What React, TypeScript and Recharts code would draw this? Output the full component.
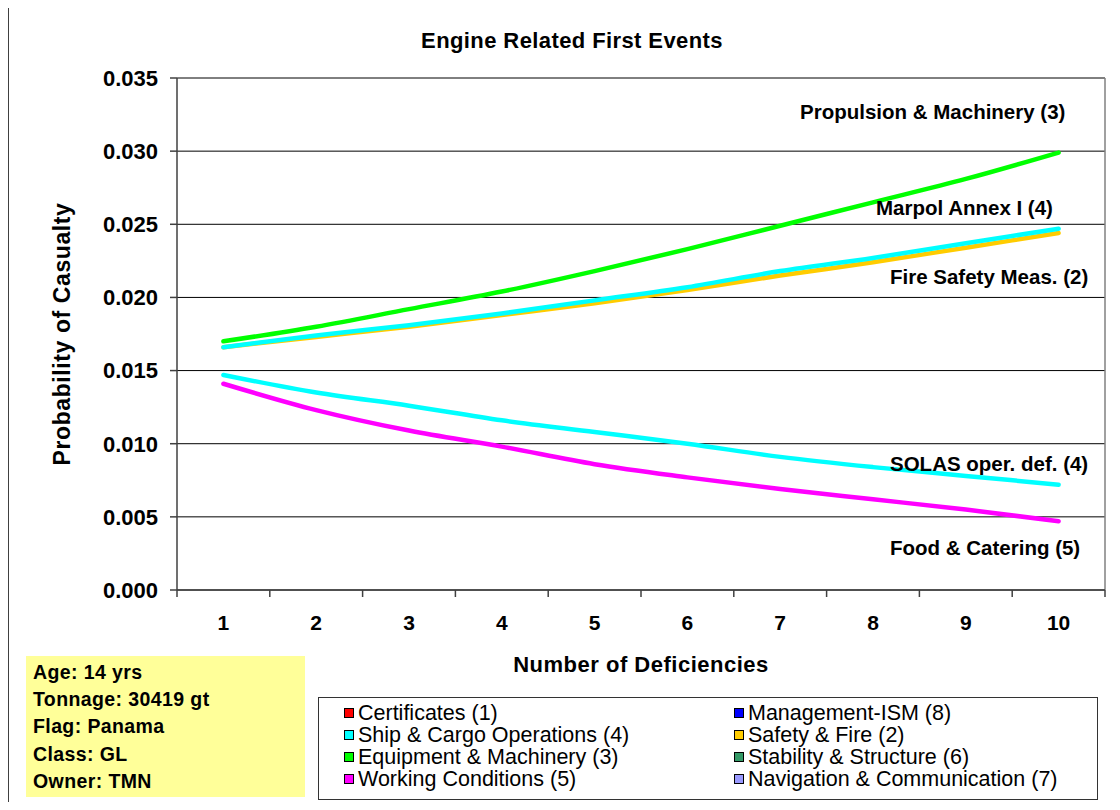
import { LineChart, Line, XAxis, YAxis, CartesianGrid, ReferenceLine, Legend } from "recharts";

const FONT = "'Liberation Sans', Arial, Helvetica, sans-serif";

// number of deficiencies (x categories)
const deficiencies = [1, 2, 3, 4, 5, 6, 7, 8, 9, 10];

// probability of casualty per series
const equipmentMachinery = [0.017, 0.018, 0.0192, 0.0204, 0.0218, 0.0233, 0.0249, 0.0265, 0.0281, 0.0299];
const shipCargoUp = [0.0166, 0.0174, 0.0181, 0.0189, 0.0198, 0.0207, 0.0218, 0.0227, 0.0237, 0.0247];
const safetyFire = [0.0166, 0.0173, 0.018, 0.0188, 0.0196, 0.0205, 0.0215, 0.0224, 0.0234, 0.0244];
const shipCargoDown = [0.0147, 0.0135, 0.0126, 0.0116, 0.0108, 0.01, 0.0091, 0.0084, 0.0078, 0.0072];
const workingConditions = [0.0141, 0.0123, 0.0109, 0.0098, 0.0086, 0.0077, 0.0069, 0.0062, 0.0055, 0.0047];

const yTicks = [0, 0.005, 0.01, 0.015, 0.02, 0.025, 0.03, 0.035];
// tick marks sit between the categories
const boundaryTicks = [0.5, 1.5, 2.5, 3.5, 4.5, 5.5, 6.5, 7.5, 8.5, 9.5, 10.5];

const legendNames = [
	"Certificates (1)",
	"Management-ISM (8)",
	"Ship & Cargo Operations (4)",
	"Safety & Fire (2)",
	"Equipment & Machinery (3)",
	"Stability & Structure (6)",
	"Working Conditions (5)",
	"Navigation & Communication (7)",
];
const legendColors = ["#FF0000", "#0000FF", "#00FFFF", "#FFCC00", "#00FF00", "#339966", "#FF00FF", "#9999FF"];

const shipInfo = ["Age: 14 yrs", "Tonnage: 30419 gt", "Flag: Panama", "Class: GL", "Owner: TMN"];

const data = deficiencies.map((n, i) => ({
	n,
	equipment: equipmentMachinery[i],
	shipUp: shipCargoUp[i],
	safety: safetyFire[i],
	shipDown: shipCargoDown[i],
	working: workingConditions[i],
}));

const YTitle = (props: any) => {
	const { x, y, height } = props.viewBox;
	const cx = x + 62;
	const cy = y + height / 2;
	return (
		<text
			x={cx}
			y={cy}
			transform={`rotate(-90 ${cx} ${cy})`}
			textAnchor="middle"
			dominantBaseline="central"
			fontFamily={FONT}
			fontWeight="bold"
			fontSize={23}
			letterSpacing={0.6}
			fill="#000"
		>
			Probability of Casualty
		</text>
	);
};

const LegendBox = () => (
	<div
		style={{
			boxSizing: "border-box",
			width: 780,
			height: 103,
			border: "1.5px solid #333",
			background: "#fff",
			padding: "4px 0 0 25px",
			display: "grid",
			gridTemplateColumns: "390px 1fr",
			gridAutoRows: "22px",
			alignContent: "start",
			fontFamily: FONT,
			fontSize: 21.5,
			lineHeight: "22px",
			color: "#000",
		}}
	>
		{legendNames.map((name, i) => (
			<div key={name} style={{ display: "flex", alignItems: "center", whiteSpace: "nowrap" }}>
				<span
					style={{
						display: "inline-block",
						width: 8,
						height: 8,
						border: "1px solid #000",
						background: legendColors[i],
						marginRight: 4,
					}}
				/>
				{name}
			</div>
		))}
	</div>
);

const tickStyle = { fill: "#000", fontSize: 22, fontWeight: "bold", fontFamily: FONT };

export default function App() {
	return (
		<div style={{ position: "relative", margin: -8, width: 1120, height: 810, overflow: "hidden", background: "#fff" }}>
			<div
				style={{
					position: "absolute",
					left: 7,
					top: 6,
					width: 1130,
					height: 820,
					borderLeft: "2px solid #404040",
					borderTop: "2px solid #404040",
				}}
			/>
			<div style={{ position: "absolute", left: 0, top: 0 }}>
				<LineChart width={1120} height={810} data={data} margin={{ top: 78, right: 15, bottom: 179, left: 0 }}>
					<CartesianGrid vertical={false} stroke="#000" strokeWidth={1} />
					<XAxis
						xAxisId="labels"
						dataKey="n"
						type="number"
						domain={[0.5, 10.5]}
						ticks={deficiencies}
						interval={0}
						tickLine={false}
						tickSize={0}
						tickMargin={24}
						height={40}
						axisLine={false}
						tick={{ ...tickStyle, fontSize: 21 }}
						label={{
							value: "Number of Deficiencies",
							position: "bottom",
							offset: 25,
							fill: "#000",
							fontSize: 22,
							fontWeight: "bold",
							fontFamily: FONT,
							letterSpacing: 0.5,
						}}
					/>
					<XAxis
						dataKey="n"
						type="number"
						domain={[0.5, 10.5]}
						ticks={boundaryTicks}
						interval={0}
						tickFormatter={() => ""}
						tickSize={7}
						tickMargin={0}
						height={1}
						axisLine={{ stroke: "#404040", strokeWidth: 1.5 }}
						tickLine={{ stroke: "#404040", strokeWidth: 1.5 }}
					/>
					<YAxis
						domain={[0, 0.035]}
						ticks={yTicks}
						tickFormatter={(v: number) => v.toFixed(3)}
						width={177}
						tickSize={7}
						tickMargin={12}
						axisLine={{ stroke: "#404040", strokeWidth: 1.5 }}
						tickLine={{ stroke: "#404040", strokeWidth: 1.5 }}
						tick={tickStyle}
						label={<YTitle />}
					/>
					<ReferenceLine x={10.5} stroke="#808080" strokeWidth={1.5} />
					<Legend
						layout="vertical"
						align="center"
						verticalAlign="middle"
						content={<LegendBox />}
						wrapperStyle={{ left: 318, top: 697, width: 780, height: 103 }}
					/>
					<Line type="monotone" dataKey="safety" stroke="#FFCC00" strokeWidth={4.5} strokeLinecap="round" dot={false} activeDot={false} isAnimationActive={false} />
					<Line type="monotone" dataKey="shipUp" stroke="#00FFFF" strokeWidth={4.5} strokeLinecap="round" dot={false} activeDot={false} isAnimationActive={false} />
					<Line type="monotone" dataKey="equipment" stroke="#00FF00" strokeWidth={4.5} strokeLinecap="round" dot={false} activeDot={false} isAnimationActive={false} />
					<Line type="monotone" dataKey="shipDown" stroke="#00FFFF" strokeWidth={4.5} strokeLinecap="round" dot={false} activeDot={false} isAnimationActive={false} />
					<Line type="monotone" dataKey="working" stroke="#FF00FF" strokeWidth={4.5} strokeLinecap="round" dot={false} activeDot={false} isAnimationActive={false} />
				</LineChart>
			</div>
			<svg
				width={1120}
				height={810}
				style={{ position: "absolute", left: 0, top: 0, pointerEvents: "none" }}
				fontFamily={FONT}
				fontWeight="bold"
				fill="#000"
			>
				<text x={572} y={48} textAnchor="middle" fontSize={22} letterSpacing={0.4}>
					Engine Related First Events
				</text>
				<text x={800} y={119} fontSize={20.5}>Propulsion &amp; Machinery (3)</text>
				<text x={876} y={215} fontSize={20.5}>Marpol Annex I (4)</text>
				<text x={890} y={284} fontSize={20.5}>Fire Safety Meas. (2)</text>
				<text x={890} y={471} fontSize={20.5}>SOLAS oper. def. (4)</text>
				<text x={890} y={555} fontSize={20.5}>Food &amp; Catering (5)</text>
			</svg>
			<div
				style={{
					position: "absolute",
					left: 26,
					top: 656,
					width: 279,
					height: 141,
					boxSizing: "border-box",
					background: "#FFFF99",
					padding: "3px 0 0 7px",
					fontFamily: FONT,
					fontWeight: "bold",
					fontSize: 19.5,
					letterSpacing: 0.4,
					lineHeight: "27.2px",
					color: "#000",
				}}
			>
				{shipInfo.map((line) => (
					<div key={line}>{line}</div>
				))}
			</div>
		</div>
	);
}
